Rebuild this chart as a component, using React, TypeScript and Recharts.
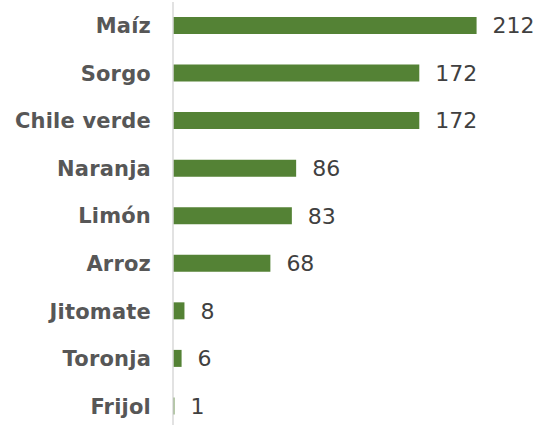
import React from "react";
import { BarChart, Bar, XAxis, YAxis, LabelList } from "recharts";

const categories = ["Maíz", "Sorgo", "Chile verde", "Naranja", "Limón", "Arroz", "Jitomate", "Toronja", "Frijol"];
const values = [212, 172, 172, 86, 83, 68, 8, 6, 1];

const data = categories.map((name, i) => ({ name, value: values[i] }));

export default function App() {
  return (
    <div style={{ position: "absolute", left: 0, top: 0, width: 543, height: 425, overflow: "hidden", background: "#fff" }}>
      <BarChart
        width={543}
        height={432}
        data={data}
        layout="vertical"
        margin={{ top: 2, right: 12, bottom: 2, left: 0 }}
      >
        <XAxis type="number" hide domain={[0, 250]} />
        <YAxis
          type="category"
          dataKey="name"
          width={173}
          tickLine={false}
          tickSize={0}
          tickMargin={22}
          axisLine={{ stroke: "#d9d9d9", strokeWidth: 1.5 }}
          tick={{ fill: "#575757", fontSize: 21, fontWeight: 700, fontFamily: "DejaVu Sans", letterSpacing: 0.2 }}
        />
        <Bar dataKey="value" fill="#548235" barSize={17} isAnimationActive={false}>
          <LabelList
            dataKey="value"
            position="right"
            offset={16}
            style={{ fill: "#404040", fontSize: 22, fontFamily: "DejaVu Sans", fontWeight: 400 }}
          />
        </Bar>
      </BarChart>
    </div>
  );
}
